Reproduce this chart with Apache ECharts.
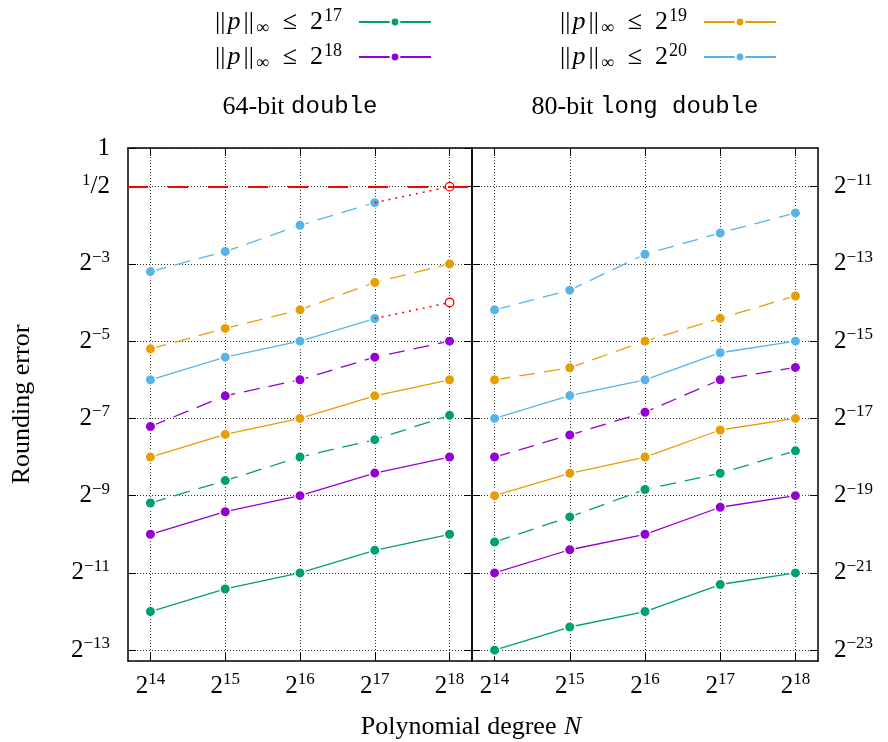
<!DOCTYPE html>
<html><head><meta charset="utf-8">
<script src="https://cdn.jsdelivr.net/npm/echarts@6/dist/echarts.min.js"></script>
<style>html,body{margin:0;padding:0;background:#fff}#c{width:888px;height:742px}</style>
</head><body><div id="c"></div>
<script>
// ---- data (log2 values) ----
const degreeExps = [14, 15, 16, 17, 18];          // N = 2^k
const xTickLabels = ['14', '15', '16', '17', '18'];
const leftTicks = [0, -1, -3, -5, -7, -9, -11, -13];
const rightTicks = [-11, -13, -15, -17, -19, -21, -23];
const normExps = ['17', '18', '19', '20'];
const colors = ['#009e73', '#9400d3', '#e69f00', '#56b4e9'];

// 64-bit double: log2(rounding error)
const dbl17 = [-12, -11.415, -11, -10.415, -10];
const dbl17b = [-9.19, -8.61, -8.0, -7.55, -6.92];
const dbl18 = [-10, -9.415, -9, -8.415, -8];
const dbl18b = [-7.21, -6.415, -6, -5.415, -5];
const dbl19 = [-8, -7.415, -7, -6.415, -6];
const dbl19b = [-5.2, -4.67, -4.19, -3.48, -3];
const dbl20 = [-6, -5.415, -5, -4.415, null];
const dbl20b = [-3.2, -2.68, -2, -1.415, null];
const dbl20Fail = [null, null, null, null, -4];
const dbl20bFail = [null, null, null, null, -1];
const halfLevel = -1;

// 80-bit long double: log2(rounding error)
const ld17 = [-23, -22.4, -22, -21.3, -21];
const ld17b = [-20.2, -19.55, -18.84, -18.42, -17.84];
const ld18 = [-21, -20.4, -20, -19.3, -19];
const ld18b = [-18, -17.43, -16.84, -16, -15.68];
const ld19 = [-19, -18.42, -18, -17.3, -17];
const ld19b = [-16, -15.69, -15, -14.41, -13.83];
const ld20 = [-17, -16.41, -16, -15.3, -15];
const ld20b = [-14.19, -13.68, -12.75, -12.2, -11.68];

// ---- styling ----
const SERIF = '"Liberation Serif", "Times New Roman", serif';
const MONO = '"Liberation Mono", "DejaVu Sans Mono", monospace';
const base = {fontFamily: SERIF, fontWeight: 'normal', color: '#000'};
const rich = {
  b: Object.assign({}, base, {fontSize: 25, lineHeight: 30}),
  s: Object.assign({}, base, {fontSize: 17, lineHeight: 17, verticalAlign: 'top'}),
  n: Object.assign({}, base, {fontSize: 26, lineHeight: 30}),
  bar: Object.assign({}, base, {fontSize: 26, lineHeight: 30, padding: [0, 1, 0, 1]}),
  i: Object.assign({}, base, {fontSize: 26, lineHeight: 30, fontStyle: 'italic', padding: [0, 2, 0, 1]}),
  sub: Object.assign({}, base, {fontSize: 18, lineHeight: 18, verticalAlign: 'bottom', padding: [0, 1, 0, 1]}),
  sp: Object.assign({}, base, {fontSize: 18, lineHeight: 18, verticalAlign: 'top', padding: [0, 12, 0, 1]}),
  r: Object.assign({}, base, {fontSize: 26, lineHeight: 30}),
  t: {fontFamily: MONO, fontWeight: 'normal', color: '#000', fontSize: 24, lineHeight: 30}
};
const gridLine = {show: true, lineStyle: {color: '#333', width: 1, type: [1, 2]}};
const frame = {show: true, onZero: false, lineStyle: {color: '#000', width: 1.5}};
const tick = (vals) => ({show: true, inside: true, length: 8, customValues: vals, lineStyle: {color: '#000', width: 1}});
const xMin = 13.7, xMax = 18.3;
const yLeftMin = -13.28, yLeftMax = 0;
const yRightMin = -23.28, yRightMax = -10;

const xLabelFmt = (v) => '{b|2}{s|' + xTickLabels[degreeExps.indexOf(Math.round(v))] + '}';
const yLabelFmt = (v) => v === 0 ? '{b|1}' : (v === -1 ? '{s|1}{b|/2}' : '{b|2}{s|\u2212' + Math.abs(v) + '}');

function xAxis(grid, pos, labels, split) {
  return {type: 'value', gridIndex: grid, position: pos, min: xMin, max: xMax,
    axisLine: frame, axisTick: tick(degreeExps),
    axisLabel: {show: labels, customValues: degreeExps, formatter: xLabelFmt, rich: rich, margin: 10},
    splitLine: split ? Object.assign({}, gridLine) : {show: false}};
}
function yAxis(grid, pos, min, max, ticks, labels, split, extra) {
  return Object.assign({type: 'value', gridIndex: grid, position: pos, min: min, max: max,
    axisLine: frame, axisTick: tick(ticks),
    axisLabel: {show: labels, customValues: ticks, formatter: yLabelFmt, rich: rich, margin: pos === 'left' ? 18 : 16, align: pos === 'left' ? 'right' : 'left'},
    splitLine: split ? Object.assign({}, gridLine) : {show: false}}, extra || {});
}

const pts = (vals) => degreeExps.map((x, i) => vals[i] == null ? null : [x, vals[i]]).filter(p => p);

function lineSeries(name, xi, yi, vals, color, dashed) {
  return {type: 'line', name: name, xAxisIndex: xi, yAxisIndex: yi, data: pts(vals),
    symbol: 'circle', symbolSize: 10.5, showSymbol: true, animation: false, silent: true,
    lineStyle: {color: color, width: 1.3, type: dashed ? [16, 9] : 'solid'},
    itemStyle: {color: color, borderColor: '#fff', borderWidth: 1.5}, z: 3};
}
function failSeries(name, baseVals, fail) {
  const k = fail.findIndex(v => v != null);
  const data = [{value: [degreeExps[k - 1], baseVals[k - 1]], symbol: 'none'}, {value: [degreeExps[k], fail[k]]}];
  return {type: 'line', name: name, xAxisIndex: 0, yAxisIndex: 0, data: data, animation: false, silent: true,
    symbol: 'circle', symbolSize: 8.5, lineStyle: {color: '#ff0000', width: 1.5, type: [2, 5]},
    itemStyle: {color: '#fff', borderColor: '#ff0000', borderWidth: 1.3}, z: 4};
}

const leftSets = [[dbl17, dbl17b], [dbl18, dbl18b], [dbl19, dbl19b], [dbl20, dbl20b]];
const rightSets = [[ld17, ld17b], [ld18, ld18b], [ld19, ld19b], [ld20, ld20b]];
const series = [];
leftSets.forEach((s, k) => {
  series.push(lineSeries('n' + normExps[k], 0, 0, s[0], colors[k], false));
  series.push(lineSeries('n' + normExps[k] + 'b', 0, 0, s[1], colors[k], true));
});
rightSets.forEach((s, k) => {
  series.push(lineSeries('l' + normExps[k], 2, 2, s[0], colors[k], false));
  series.push(lineSeries('l' + normExps[k] + 'b', 2, 2, s[1], colors[k], true));
});
const f1 = failSeries('fail1', dbl20b, dbl20bFail);
f1.markLine = {silent: true, symbol: 'none', animation: false, label: {show: false},
  lineStyle: {color: '#ff0000', width: 1.8, type: [20, 20]}, data: [{yAxis: halfLevel}]};
series.push(f1);
series.push(failSeries('fail2', dbl20, dbl20Fail));

const legendFmt = (name) => '{bar|||}{i|p}{bar|||}{sub|\u221e}{n|\u2002\u2264\u20022}{sp|' + name.slice(1) + '}';
const legendPos = [[456, 7], [456, 42], [111, 7], [111, 42]];
const legends = normExps.map((e, k) => ({data: ['n' + e], right: legendPos[k][0], top: legendPos[k][1],
  align: 'right', itemWidth: 72, itemHeight: 11, padding: 0, selectedMode: false,
  formatter: legendFmt, textStyle: {rich: rich}}));

const option = {
  backgroundColor: '#fff',
  animation: false,
  title: [
    {text: '{r|64-bit }{t|double}', left: 300, top: 92, textAlign: 'center', padding: 0, textStyle: {fontWeight: 'normal', rich: rich}},
    {text: '{r|80-bit }{t|long double}', left: 645, top: 92, textAlign: 'center', padding: 0, textStyle: {fontWeight: 'normal', rich: rich}},
    {text: '{r|Polynomial degree }{i|N}', left: 472, top: 712, textAlign: 'center', padding: 0, textStyle: {fontWeight: 'normal', rich: rich}}
  ],
  legend: legends,
  grid: [
    {left: 128, right: 416, top: 148, bottom: 81},
    {left: 472, right: 70, top: 148, bottom: 81}
  ],
  xAxis: [
    xAxis(0, 'bottom', true, true), xAxis(0, 'top', false, false),
    xAxis(1, 'bottom', true, true), xAxis(1, 'top', false, false)
  ],
  yAxis: [
    yAxis(0, 'left', yLeftMin, yLeftMax, leftTicks, true, true,
      {name: 'Rounding error', nameLocation: 'middle', nameRotate: 90, nameGap: 93,
       nameTextStyle: {fontFamily: SERIF, fontSize: 26, color: '#000'}}),
    yAxis(0, 'right', yLeftMin, yLeftMax, leftTicks, false, false),
    yAxis(1, 'right', yRightMin, yRightMax, rightTicks, true, true),
    yAxis(1, 'left', yRightMin, yRightMax, rightTicks, false, false)
  ],
  series: series
};
const chart = echarts.init(document.getElementById('c'), null, {renderer: 'canvas'});
chart.setOption(option);
</script></body></html>
